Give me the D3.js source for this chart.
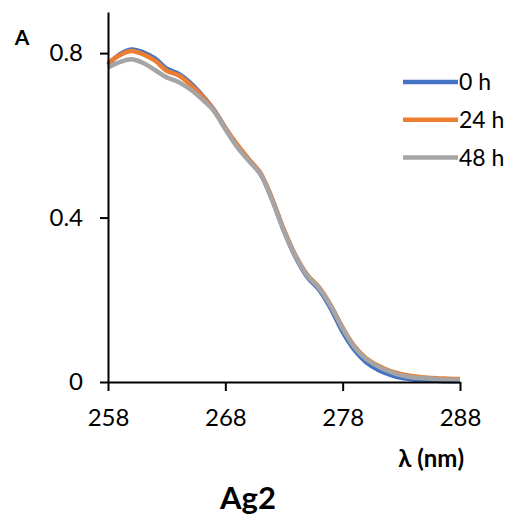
<!DOCTYPE html>
<html><head><meta charset="utf-8">
<script src="https://cdn.jsdelivr.net/npm/d3@7"></script>
<style>body{margin:0;background:#fff}svg{display:block}text{font-family:Lato,"Open Sans",sans-serif;fill:#000}</style>
</head><body><svg id="c" width="508" height="517"></svg>
<script>
const wavelengths = d3.range(258, 289, 1);
const series0h  = [0.772,0.797,0.809,0.802,0.787,0.762,0.750,0.728,0.698,0.663,0.618,0.575,0.540,0.506,0.443,0.367,0.303,0.255,0.224,0.178,0.122,0.078,0.048,0.030,0.018,0.010,0.006,0.004,0.003,0.002,0.002];
const series24h = [0.776,0.795,0.805,0.797,0.782,0.757,0.746,0.724,0.696,0.662,0.618,0.578,0.542,0.508,0.445,0.370,0.307,0.260,0.230,0.186,0.132,0.087,0.058,0.040,0.027,0.019,0.014,0.011,0.009,0.008,0.007];
const series48h = [0.765,0.778,0.785,0.776,0.759,0.741,0.730,0.712,0.688,0.660,0.615,0.572,0.538,0.505,0.442,0.367,0.305,0.258,0.228,0.184,0.130,0.085,0.056,0.038,0.025,0.016,0.011,0.009,0.007,0.006,0.005];
const seriesNames = ["0 h","24 h","48 h"];
const seriesColors = ["#4472C4","#ED7D31","#A5A5A5"];
const xTicks = [258,268,278,288];
const yTicks = [0,0.4,0.8];

const svg = d3.select("#c");
const x = d3.scaleLinear().domain([258,288]).range([108,460]);
const y = d3.scaleLinear().domain([0,0.9]).range([382,12]);

const all = [series0h, series24h, series48h];
const line = d3.line().x((d,i)=>x(wavelengths[i])).y(d=>y(d)).curve(d3.curveCatmullRom.alpha(0.5));
all.forEach((s,k)=>{
  svg.append("path").attr("d", line(s)).attr("fill","none")
    .attr("stroke", seriesColors[k]).attr("stroke-width", 4.5).attr("stroke-linejoin","round");
});

const xAxis = svg.append("g").attr("transform","translate(0,382)")
  .call(d3.axisBottom(x).tickValues(xTicks).tickFormat(d3.format("d")).tickSize(9).tickSizeOuter(0).tickPadding(18));
const yAxis = svg.append("g").attr("transform","translate(108,0)")
  .call(d3.axisLeft(y).tickValues(yTicks).tickFormat(d=>d===0?"0":d3.format(".1f")(d)).tickSize(8).tickSizeOuter(0).tickPadding(17));
[xAxis,yAxis].forEach(g=>{
  g.select(".domain").attr("stroke","#000").attr("stroke-width",2);
  g.selectAll(".tick line").attr("stroke","#000").attr("stroke-width",2);
  g.selectAll(".tick text").style("font-family","Lato").style("font-size","24px").attr("fill","#000");
});

svg.append("text").attr("x",22).attr("y",45).attr("text-anchor","middle")
  .style("font-weight","bold").style("font-size","21px").text("A");
svg.append("text").attr("x",464).attr("y",467).attr("text-anchor","end")
  .style("font-weight","bold").style("font-size","24px").text("λ (nm)");
svg.append("text").attr("x",248).attr("y",509).attr("text-anchor","middle")
  .style("font-weight","bold").style("font-size","31px").text("Ag2");

const lg = svg.append("g");
seriesNames.forEach((n,k)=>{
  const yy = 82 + k*37.7;
  lg.append("line").attr("x1",403).attr("x2",458).attr("y1",yy).attr("y2",yy)
    .attr("stroke",seriesColors[k]).attr("stroke-width",4.5);
  lg.append("text").attr("x",459).attr("y",yy).attr("dy","0.36em")
    .style("font-size","23px").text(n);
});
</script></body></html>
